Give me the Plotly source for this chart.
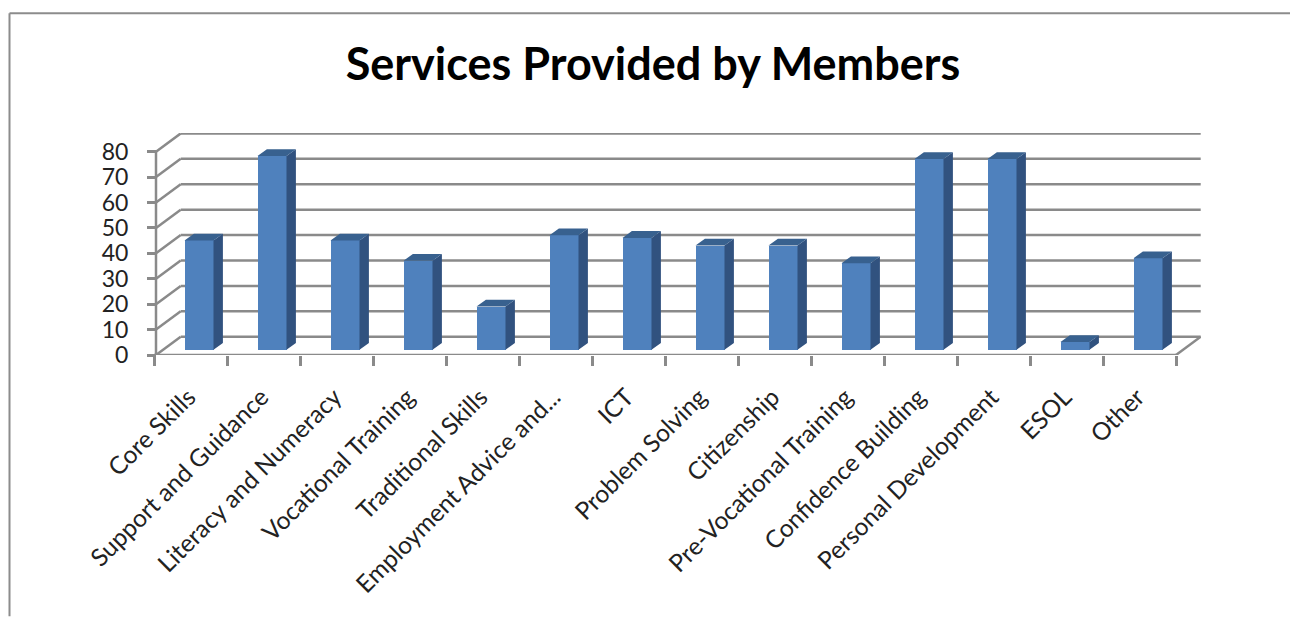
import plotly.graph_objects as go

TITLE = "Services Provided by Members"
categories = ["Core Skills", "Support and Guidance", "Literacy and Numeracy", "Vocational Training",
              "Traditional Skills", "Employment Advice and...", "ICT", "Problem Solving", "Citizenship",
              "Pre-Vocational Training", "Confidence Building", "Personal Development", "ESOL", "Other"]
values = [43, 76.2, 43, 35, 17, 45, 44, 41, 41, 34, 75, 75, 3, 36]
y_ticks = [0, 10, 20, 30, 40, 50, 60, 70, 80]

FONT = "Lato, 'Open Sans', sans-serif"
GRID = "#8a8a8a"
FRONT = "#4f81bd"
SIDE = "#31527f"
TOP = "#38618f"

# pixel frame of the plot
W, H = 1290, 617
L, R, T, B = 150, 1201, 133, 355.3
CAT_PX = 73.0
UNIT_PX = (355.3 - 151.7) / 80
x_lo = -0.5 - 4 / CAT_PX
x_hi = 13.5 + 25 / CAT_PX
y_hi = (B - T) / UNIT_PX

DX = 24.7 / CAT_PX          # wall depth, x
DY = 18.3 / UNIT_PX         # wall depth, y
X0 = -0.5 + 2 / CAT_PX      # left front corner
X1 = 13.5                   # right front corner
BAR_W = 29 / CAT_PX
BAR_SHIFT = 8.5 / CAT_PX
BAR_BASE = 5.3 / UNIT_PX
BAR_DX = 9.4 / CAT_PX
BAR_DY = 6.8 / UNIT_PX
LABEL_SHIFT = -2 / CAT_PX

fig = go.Figure()

# front faces
fig.add_trace(go.Bar(x=[i + BAR_SHIFT for i in range(len(values))], y=values, base=BAR_BASE,
                     width=BAR_W, marker=dict(color=FRONT, line=dict(width=0)), showlegend=False,
                     xaxis="x", yaxis="y"))

# side and top faces derived from the values
side_x, side_y, top_x, top_y = [], [], [], []
for i, v in enumerate(values):
    xl = i + BAR_SHIFT - BAR_W / 2
    xr = i + BAR_SHIFT + BAR_W / 2
    yt = BAR_BASE + v
    side_x += [xr, xr + BAR_DX, xr + BAR_DX, xr, xr, None]
    side_y += [BAR_BASE, BAR_BASE + BAR_DY, yt + BAR_DY, yt, BAR_BASE, None]
    top_x += [xl, xr, xr + BAR_DX, xl + BAR_DX, xl, None]
    top_y += [yt, yt, yt + BAR_DY, yt + BAR_DY, yt, None]
fig.add_trace(go.Scatter(x=side_x, y=side_y, mode="lines", fill="toself", fillcolor=SIDE,
                         line=dict(width=0, color=SIDE), showlegend=False, hoverinfo="skip"))
fig.add_trace(go.Scatter(x=top_x, y=top_y, mode="lines", fill="toself", fillcolor=TOP,
                         line=dict(width=0, color=TOP), showlegend=False, hoverinfo="skip"))

# 3-D walls
shapes = []
def seg(x0, y0, x1, y1):
    shapes.append(dict(type="line", xref="x", yref="y", x0=x0, y0=y0, x1=x1, y1=y1,
                       layer="below", line=dict(color=GRID, width=2.5)))
for t in y_ticks:
    seg(X0, t, X0 + DX, t + DY)
    seg(X0 + DX, t + DY, X1 + DX, t + DY)
seg(X0, 0, X0, y_ticks[-1])
seg(X0 - 2 / CAT_PX, 0, X1, 0)
seg(X1, 0, X1 + DX, DY)

# outer frame, open on the right and bottom
fx0 = (9.5 - L) / (R - L)
shapes.append(dict(type="line", xref="paper", yref="paper", x0=fx0, x1=(W - L) / (R - L), y0=(B - 13) / (B - T),
                   y1=(B - 13) / (B - T), line=dict(color="#8c8c8c", width=2)))
shapes.append(dict(type="line", xref="paper", yref="paper", x0=fx0, x1=fx0, y0=(B - 13) / (B - T),
                   y1=(B - H) / (B - T), line=dict(color="#8c8c8c", width=2)))

fig.update_layout(
    width=W, height=H, paper_bgcolor="white", plot_bgcolor="rgba(0,0,0,0)",
    margin=dict(l=L, r=W - R, t=T, b=H - B, pad=0),
    shapes=shapes, showlegend=False, bargap=0,
    title=dict(text=f"<b>{TITLE}</b>", x=653 / W, xanchor="center", y=1 - 64 / H, yanchor="middle",
               font=dict(family=FONT, size=45, color="#000000")),
    font=dict(family=FONT, color="#222222"),
    xaxis=dict(range=[x_lo, x_hi], tickmode="array", tickvals=[i - 0.5 for i in range(15)], ticktext=[""] * 15,
               ticks="outside", ticklen=10, tickwidth=2.5, tickcolor=GRID, showgrid=False, zeroline=False,
               showline=False, domain=[0, 1]),
    xaxis2=dict(range=[x_lo, x_hi], overlaying="x", anchor="y", side="bottom", tickmode="array",
                tickvals=[i + LABEL_SHIFT for i in range(14)], ticktext=categories, tickangle=-45, ticks="",
                ticklabelstandoff=22,
                tickfont=dict(family=FONT, size=24.5, color="#222222"), showgrid=False, zeroline=False, showline=False),
    yaxis=dict(range=[0, y_hi], tickmode="array", tickvals=y_ticks, ticktext=[str(t) for t in y_ticks],
               ticks="outside", ticklen=9, tickwidth=2.5, tickcolor=GRID, showgrid=False, zeroline=False,
               showline=False, anchor="free", position=6 / (R - L), ticklabelstandoff=14,
               tickfont=dict(family=FONT, size=23, color="#222222")),
)
# dummy trace so that the label axis is drawn
fig.add_trace(go.Scatter(x=list(range(14)), y=values, xaxis="x2", yaxis="y", mode="none",
                         showlegend=False, hoverinfo="skip"))
fig.write_html("out.html", config=dict(displayModeBar=False), post_script="document.body.style.margin='0';")
